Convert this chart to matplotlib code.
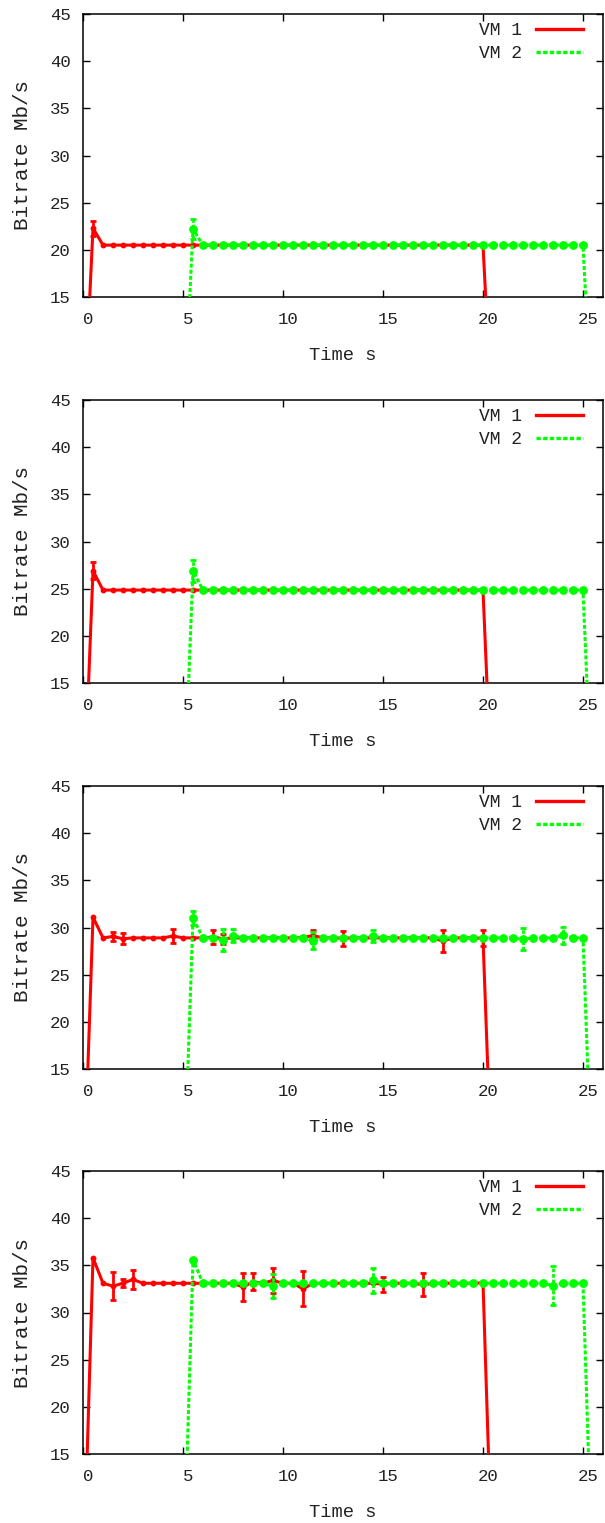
import matplotlib
matplotlib.use("Agg")
import matplotlib.pyplot as plt
from matplotlib.lines import Line2D
import matplotlib.transforms as mtransforms

# ---------------- data ----------------
time_vm1 = [0.0, 0.5, 1.0, 1.5, 2.0, 2.5, 3.0, 3.5, 4.0, 4.5,
            5.0, 5.5, 6.0, 6.5, 7.0, 7.5, 8.0, 8.5, 9.0, 9.5,
            10.0, 10.5, 11.0, 11.5, 12.0, 12.5, 13.0, 13.5, 14.0, 14.5,
            15.0, 15.5, 16.0, 16.5, 17.0, 17.5, 18.0, 18.5, 19.0, 19.5,
            20.0, 20.5]
time_vm2 = [5.0, 5.5, 6.0, 6.5, 7.0, 7.5, 8.0, 8.5, 9.0, 9.5,
            10.0, 10.5, 11.0, 11.5, 12.0, 12.5, 13.0, 13.5, 14.0, 14.5,
            15.0, 15.5, 16.0, 16.5, 17.0, 17.5, 18.0, 18.5, 19.0, 19.5,
            20.0, 20.5, 21.0, 21.5, 22.0, 22.5, 23.0, 23.5, 24.0, 24.5,
            25.0, 25.5]

# panel 1
vm1_a = [0, 22.3, 20.5, 20.5, 20.5, 20.5, 20.5, 20.5, 20.5, 20.5,
         20.5, 20.5, 20.5, 20.5, 20.5, 20.5, 20.5, 20.5, 20.5, 20.5,
         20.5, 20.5, 20.5, 20.5, 20.5, 20.5, 20.5, 20.5, 20.5, 20.5,
         20.5, 20.5, 20.5, 20.5, 20.5, 20.5, 20.5, 20.5, 20.5, 20.5,
         20.5, 0]
err1_a = [0, 0.8, 0, 0, 0, 0, 0, 0, 0, 0,
          0, 0, 0, 0, 0, 0, 0, 0, 0, 0,
          0, 0, 0, 0, 0, 0, 0, 0, 0, 0,
          0, 0, 0, 0, 0, 0, 0, 0, 0, 0,
          0, 0]
vm2_a = [0, 22.2, 20.5, 20.5, 20.5, 20.5, 20.5, 20.5, 20.5, 20.5,
         20.5, 20.5, 20.5, 20.5, 20.5, 20.5, 20.5, 20.5, 20.5, 20.5,
         20.5, 20.5, 20.5, 20.5, 20.5, 20.5, 20.5, 20.5, 20.5, 20.5,
         20.5, 20.5, 20.5, 20.5, 20.5, 20.5, 20.5, 20.5, 20.5, 20.5,
         20.5, 0]
err2_a = [0, 1.1, 0, 0, 0, 0, 0, 0, 0, 0,
          0, 0, 0, 0, 0, 0, 0, 0, 0, 0,
          0, 0, 0, 0, 0, 0, 0, 0, 0, 0,
          0, 0, 0, 0, 0, 0, 0, 0, 0, 0,
          0, 0]

# panel 2
vm1_b = [0, 26.9, 24.85, 24.85, 24.85, 24.85, 24.85, 24.85, 24.85, 24.85,
         24.85, 24.85, 24.85, 24.85, 24.85, 24.85, 24.85, 24.85, 24.85, 24.85,
         24.85, 24.85, 24.85, 24.85, 24.85, 24.85, 24.85, 24.85, 24.85, 24.85,
         24.85, 24.85, 24.85, 24.85, 24.85, 24.85, 24.85, 24.85, 24.85, 24.85,
         24.85, 0]
err1_b = [0, 0.9, 0, 0, 0, 0, 0, 0, 0, 0,
          0, 0, 0, 0, 0, 0, 0, 0, 0, 0,
          0, 0, 0, 0, 0, 0, 0, 0, 0, 0,
          0, 0, 0, 0, 0, 0, 0, 0, 0, 0,
          0, 0]
vm2_b = [0, 26.9, 24.85, 24.85, 24.85, 24.85, 24.85, 24.85, 24.85, 24.85,
         24.85, 24.85, 24.85, 24.85, 24.85, 24.85, 24.85, 24.85, 24.85, 24.85,
         24.85, 24.85, 24.85, 24.85, 24.85, 24.85, 24.85, 24.85, 24.85, 24.85,
         24.85, 24.85, 24.85, 24.85, 24.85, 24.85, 24.85, 24.85, 24.85, 24.85,
         24.85, 0]
err2_b = [0, 1.15, 0, 0, 0, 0, 0, 0, 0, 0,
          0, 0, 0, 0, 0, 0, 0, 0, 0, 0,
          0, 0, 0, 0, 0, 0, 0, 0, 0, 0,
          0, 0, 0, 0, 0, 0, 0, 0, 0, 0,
          0, 0]

# panel 3
vm1_c = [0, 31.1, 28.9, 29.05, 28.8, 28.9, 28.9, 28.9, 28.9, 29.1,
         28.9, 28.9, 28.9, 29.0, 28.8, 28.9, 28.9, 28.9, 28.9, 28.9,
         28.9, 28.9, 28.95, 29.15, 28.9, 28.9, 28.85, 28.9, 28.9, 28.9,
         28.9, 28.9, 28.9, 28.9, 28.9, 28.9, 28.55, 28.9, 28.9, 28.9,
         28.85, 0]
err1_c = [0, 0, 0, 0.45, 0.6, 0, 0, 0, 0, 0.7,
          0, 0, 0, 0.7, 0.5, 0, 0, 0, 0, 0,
          0, 0, 0.2, 0.6, 0, 0, 0.8, 0, 0, 0,
          0, 0, 0, 0, 0, 0, 1.2, 0, 0, 0,
          0.85, 0]
vm2_c = [0, 31.0, 28.9, 28.9, 28.7, 29.15, 28.9, 28.9, 28.9, 28.9,
         28.9, 28.9, 28.9, 28.6, 28.9, 28.9, 28.9, 28.9, 28.9, 29.1,
         28.9, 28.9, 28.9, 28.9, 28.9, 28.9, 28.9, 28.9, 28.9, 28.9,
         28.9, 28.9, 28.9, 28.9, 28.75, 28.9, 28.9, 28.9, 29.2, 28.9,
         28.9, 0]
err2_c = [0, 0.7, 0, 0, 1.15, 0.7, 0, 0, 0, 0,
          0, 0, 0, 0.9, 0, 0, 0, 0, 0, 0.6,
          0, 0, 0, 0, 0, 0, 0, 0, 0, 0,
          0, 0, 0, 0, 1.15, 0, 0, 0, 0.9, 0,
          0, 0]

# panel 4
vm1_d = [0, 35.8, 33.1, 32.8, 33.1, 33.5, 33.1, 33.1, 33.1, 33.1,
         33.1, 33.1, 33.1, 33.1, 33.1, 33.1, 32.7, 33.25, 33.1, 33.4,
         33.1, 33.1, 32.5, 33.1, 33.1, 33.1, 33.1, 33.1, 33.1, 33.1,
         33.0, 33.1, 33.1, 33.1, 32.95, 33.1, 33.1, 33.1, 33.1, 33.1,
         33.15, 0]
err1_d = [0, 0, 0, 1.5, 0.4, 1.0, 0, 0, 0, 0,
          0, 0, 0, 0, 0, 0, 1.45, 0.9, 0, 1.3,
          0, 0, 1.85, 0, 0, 0, 0, 0, 0, 0,
          0.8, 0, 0, 0, 1.25, 0, 0, 0, 0, 0,
          0, 0]
vm2_d = [0, 35.6, 33.1, 33.1, 33.1, 33.1, 33.1, 33.1, 33.1, 32.8,
         33.1, 33.1, 33.1, 33.1, 33.1, 33.1, 33.1, 33.1, 33.1, 33.4,
         33.1, 33.1, 33.1, 33.1, 33.1, 33.1, 33.1, 33.1, 33.1, 33.1,
         33.1, 33.1, 33.1, 33.1, 33.1, 33.1, 33.1, 32.85, 33.1, 33.1,
         33.1, 0]
err2_d = [0, 0, 0, 0, 0, 0, 0, 0, 0, 1.25,
          0, 0, 0, 0, 0, 0, 0, 0, 0, 1.3,
          0, 0, 0, 0, 0, 0, 0, 0, 0, 0,
          0, 0, 0, 0, 0, 0, 0, 2.05, 0, 0,
          0, 0]

panels = [(vm1_a, err1_a, vm2_a, err2_a),
          (vm1_b, err1_b, vm2_b, err2_b),
          (vm1_c, err1_c, vm2_c, err2_c),
          (vm1_d, err1_d, vm2_d, err2_d)]

series_labels = ["VM 1", "VM 2"]
x_ticks = [0, 5, 10, 15, 20, 25]
y_ticks = [15, 20, 25, 30, 35, 40, 45]

# ---------------- style ----------------
RED = "#ff0000"
GREEN = "#00ff00"
FONT = "Liberation Mono"
GDASH = (0, (1.3, 0.7))

W, H, DPI = 605, 1523, 100
fig = plt.figure(figsize=(W / DPI, H / DPI), dpi=DPI)
plt.rcParams["font.family"] = [FONT, "DejaVu Sans"]

tops = [14, 400, 786, 1171]
ax_h = 283
left_px, right_px = 83, 603

for k, (v1, e1, v2, e2) in enumerate(panels):
    top = tops[k]
    ax = fig.add_axes([left_px / W, 1 - (top + ax_h) / H,
                       (right_px - left_px) / W, ax_h / H])

    # VM 1
    ax.plot(time_vm1, v1, color=RED, lw=2.2, marker="o", ms=3.2,
            mec=RED, mfc=RED, zorder=3, solid_joinstyle="miter")
    ex = [t for t, e in zip(time_vm1, e1) if e > 0]
    ey = [v for v, e in zip(v1, e1) if e > 0]
    ee = [e for e in e1 if e > 0]
    if ex:
        ax.errorbar(ex, ey, yerr=ee, fmt="none", ecolor=RED,
                    elinewidth=2.0, capsize=2.5, capthick=2.0, zorder=3)

    # VM 2
    ax.plot(time_vm2, v2, color=GREEN, lw=2.2, linestyle=GDASH,
            marker="o", ms=5.3, mec=GREEN, mfc=GREEN, zorder=4)
    ex = [t for t, e in zip(time_vm2, e2) if e > 0]
    ey = [v for v, e in zip(v2, e2) if e > 0]
    ee = [e for e in e2 if e > 0]
    if ex:
        cont = ax.errorbar(ex, ey, yerr=ee, fmt="none", ecolor=GREEN,
                           elinewidth=2.0, capsize=2.5, capthick=2.0, zorder=4)
        for lc in cont[2]:
            lc.set_linestyle(GDASH)

    ax.set_xlim(0, 26)
    ax.set_ylim(15, 45)
    ax.set_xticks(x_ticks)
    ax.set_yticks(y_ticks)
    ax.set_xticklabels([str(t) for t in x_ticks])
    ax.set_yticklabels([str(t) for t in y_ticks])
    ax.tick_params(direction="in", length=5, width=1, top=True, right=True,
                   labelsize=12.5, labelcolor="#222222", colors="black")
    ax.tick_params(axis="x", pad=11)
    ax.tick_params(axis="y", pad=9)
    off = mtransforms.ScaledTranslation(5 / DPI, 0, fig.dpi_scale_trans)
    for lab in ax.get_xticklabels():
        lab.set_transform(lab.get_transform() + off)
    for sp in ax.spines.values():
        sp.set_linewidth(1.1)
        sp.set_color("black")

    ax.set_ylabel("Bitrate Mb/s", fontsize=15, color="#222222")
    ax.yaxis.set_label_coords(-0.098, 0.5)
    ax.set_xlabel("Time s", fontsize=13.5, color="#222222")
    ax.xaxis.set_label_coords(0.5, -0.175)

    handles = [Line2D([], [], color=RED, lw=2.4),
               Line2D([], [], color=GREEN, lw=2.4, linestyle=GDASH)]
    ax.legend(handles, series_labels, loc="upper right",
              bbox_to_anchor=(0.9615, 0.972), frameon=False,
              fontsize=13, markerfirst=False, handlelength=2.6,
              handletextpad=0.8, labelspacing=0.33, borderpad=0,
              borderaxespad=0, labelcolor="#222222")

fig.savefig("out.png", dpi=DPI)
